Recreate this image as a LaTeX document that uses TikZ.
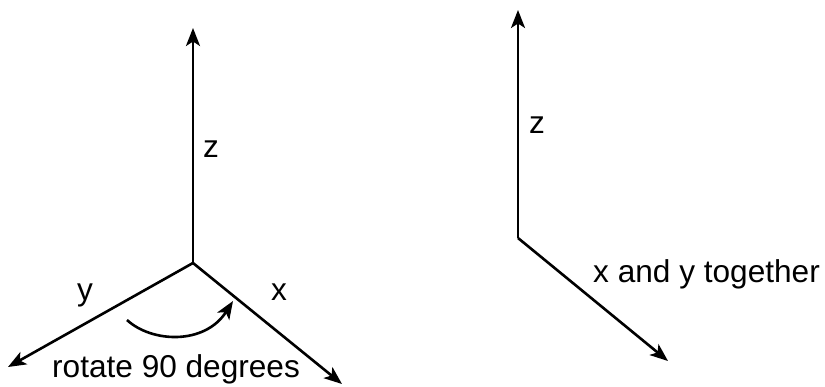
\documentclass[tikz,border=0pt]{standalone}
\usepackage{fontspec}
\setmainfont{Liberation Sans}
\usetikzlibrary{arrows.meta}
\begin{document}
\begin{tikzpicture}[x=1pt,y=-1pt,
  axis/.style={line width=2.6pt,-{Stealth[length=18pt,width=14pt,inset=4.5pt]}},
  lbl/.style={font=\fontsize{31.6}{38}\selectfont,inner sep=0pt}]
\useasboundingbox (0,0) rectangle (825,386);
% left axes
\coordinate (o1) at (193,263);
\coordinate (z1) at (193,28);
\coordinate (y1) at (8,367);
\coordinate (x1) at (342,384);
\draw[axis] (o1) -- (z1);
\draw[axis] (o1) -- (y1);
\draw[axis] (o1) -- (x1);
\node[lbl] (zl) at (211,149) {z};
\node[lbl,anchor=base] (yl) at (85,300) {y};
\node[lbl,anchor=base] (xl) at (279,300) {x};
\coordinate (rs) at (127,320);
\coordinate (re) at (233,301);
\draw[axis] (rs) .. controls (152,343) and (205,345) .. (re);
\node[lbl,anchor=base west] (rot) at (52,377) {rotate 90 degrees};
% right axes
\coordinate (o2) at (518,238);
\coordinate (z2) at (518,10);
\coordinate (xy2) at (668,361);
\draw[axis] (o2) -- (z2);
\draw[axis] (o2) -- (xy2);
\node[lbl] (zr) at (537,125) {z};
\node[lbl,anchor=base west] (xyl) at (593,282) {x and y together};
\end{tikzpicture}
\end{document}
